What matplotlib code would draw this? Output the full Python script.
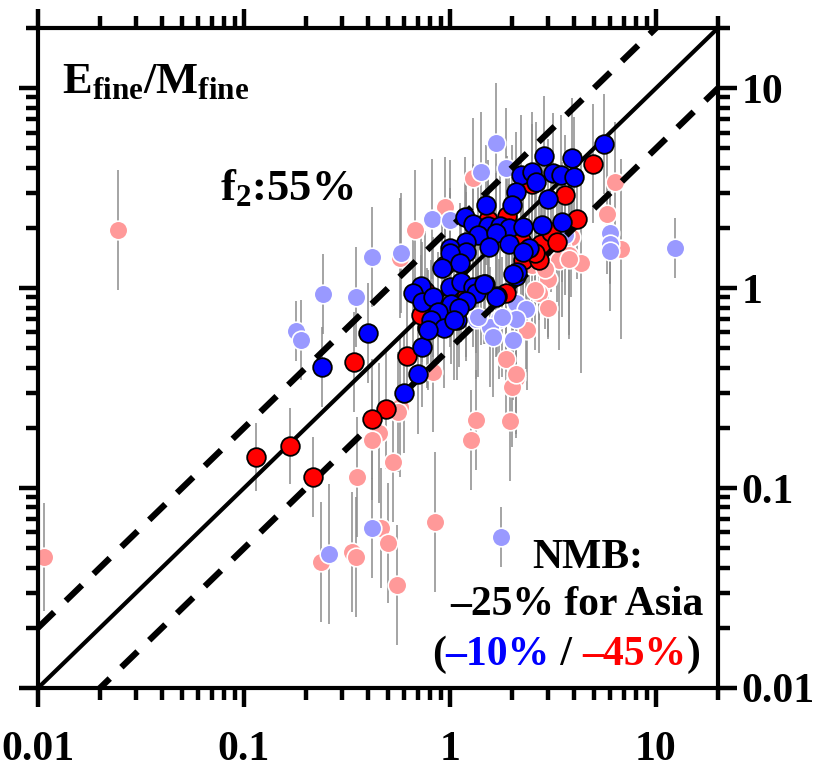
import numpy as np
import matplotlib
matplotlib.use("Agg")
import matplotlib.pyplot as plt
from matplotlib.ticker import FixedLocator, FixedFormatter, LogLocator, NullFormatter

plt.rcParams['font.family'] = ['Liberation Serif', 'DejaVu Serif']
plt.rcParams['font.weight'] = 'bold'
plt.rcParams['mathtext.fontset'] = 'custom'
plt.rcParams['mathtext.rm'] = 'Liberation Serif:bold'
plt.rcParams['mathtext.it'] = 'Liberation Serif:bold'
plt.rcParams['mathtext.bf'] = 'Liberation Serif:bold'

# ---- data: observed (x) vs modelled (y), error bar half-width in decades ----
# faded red (other sites)
lr_x = [0.0107, 0.0244, 0.95, 0.68, 1.29, 0.57, 0.83, 0.575, 0.56, 0.45, 0.42,
        0.53, 0.353, 1.33, 1.27, 0.843, 0.46, 0.5, 0.552, 0.334, 0.35, 0.237,
        2.08, 2.0, 1.96, 6.33, 5.79, 6.77, 3.87, 3.5, 3.8, 3.4, 4.33, 3.0, 2.7,
        3.0, 2.37, 1.87, 2.08, 3.8, 2.5, 2.9, 2.6]
lr_y = [0.045, 1.95, 2.54, 1.95, 3.55, 1.41, 0.38, 0.254, 0.24, 0.188, 0.174,
        0.135, 0.1135, 0.219, 0.174, 0.0676, 0.063, 0.053, 0.0327, 0.048, 0.045, 0.0427,
        0.355, 0.32, 0.216, 3.39, 2.34, 1.57, 1.8, 1.6, 1.47, 1.38, 1.33, 1.11, 0.94,
        0.80, 0.62, 0.44, 0.37, 1.4, 1.3, 1.25, 0.98]
lr_err = [0.27, 0.3, 0.25, 0.3, 0.3, 0.3, 0.3, 0.35, 0.3, 0.35, 0.3,
          0.3, 0.3, 0.25, 0.25, 0.35, 0.3, 0.3, 0.3, 0.3, 0.3, 0.3,
          0.3, 0.3, 0.3, 0.3, 0.3, 0.45, 0.3, 0.35, 0.4, 0.45, 0.55, 0.3, 0.3,
          0.15, 0.3, 0.3, 0.3, 0.4, 0.3, 0.3, 0.3]

# faded blue
lb_x = [0.179, 0.19, 0.242, 0.35, 0.42, 0.58, 0.82, 1.0, 1.41, 1.67, 1.88,
        0.42, 0.259, 1.76, 3.6, 5.98, 5.98, 6.0, 12.3, 2.1, 2.35, 1.72, 2.08,
        1.34, 1.56, 1.62, 2.03, 1.37, 1.78]
lb_y = [0.61, 0.55, 0.93, 0.90, 1.43, 1.5, 2.21, 2.2, 3.8, 5.3, 3.98,
        0.063, 0.047, 0.057, 1.85, 1.88, 1.67, 1.53, 1.58, 0.84, 0.79, 0.70, 0.70,
        0.70, 0.64, 0.57, 0.55, 0.72, 0.72]
lb_err = [0.15, 0.2, 0.2, 0.25, 0.25, 0.3, 0.3, 0.3, 0.3, 0.3, 0.3,
          0.25, 0.35, 0.15, 0.3, 0.25, 0.2, 0.3, 0.15, 0.3, 0.3, 0.3, 0.3,
          0.3, 0.3, 0.3, 0.3, 0.3, 0.3]

# dark red
dr_x = [0.115, 0.167, 0.216, 0.342, 0.617, 0.49, 0.42, 0.77, 1.42, 1.86, 1.48,
        2.25, 2.71, 2.76, 4.14, 3.63, 4.95, 2.6, 0.76, 1.53, 2.2, 3.1, 0.95,
        1.9, 2.5, 0.72, 1.2, 3.3]
dr_y = [0.143, 0.162, 0.1135, 0.427, 0.457, 0.248, 0.221, 0.63, 1.04, 0.94, 1.05,
        1.38, 1.38, 1.66, 2.21, 2.92, 4.2, 1.5, 0.97, 2.2, 1.75, 1.9, 1.3,
        2.3, 3.3, 0.73, 0.9, 1.7]
dr_err = [0.17, 0.19, 0.2, 0.25, 0.3, 0.3, 0.3, 0.3, 0.3, 0.3, 0.3,
          0.3, 0.3, 0.3, 0.3, 0.3, 0.3, 0.3, 0.3, 0.3, 0.3, 0.3, 0.3,
          0.3, 0.3, 0.3, 0.3, 0.3]

# dark blue
db_x = [0.239, 0.40, 0.73, 0.70, 0.6, 5.6, 3.92, 2.87, 3.16, 3.47, 4.0,
        2.2, 2.5, 2.62, 2.08, 1.99, 1.5, 3.0, 1.18, 1.3, 1.53, 1.75,
        1.94, 2.27, 2.8, 3.5, 1.37, 1.68, 1.94, 1.19, 1.0, 1.19, 2.41,
        2.08, 2.12, 1.7, 1.08, 1.0, 1.12, 0.91, 0.72, 0.66, 0.73, 0.83,
        1.0, 1.13, 1.3, 1.33, 1.19, 1.01, 1.1, 0.87, 0.81, 0.93, 1.05,
        1.67, 2.03, 2.26, 1.46, 1.54, 0.78]
db_y = [0.403, 0.596, 0.507, 0.37, 0.30, 5.25, 4.5, 4.6, 3.76, 3.7, 3.6,
        3.67, 3.8, 3.39, 3.02, 2.6, 2.6, 2.79, 2.26, 2.1, 2.05, 2.05,
        2.0, 2.02, 2.07, 2.15, 1.84, 1.88, 1.67, 1.7, 1.58, 1.51, 1.58,
        1.15, 1.2, 0.91, 0.69, 1.5, 1.33, 1.26, 1.03, 0.95, 0.85, 0.9,
        1.01, 1.07, 1.01, 0.95, 0.86, 0.83, 0.8, 0.76, 0.69, 0.63, 0.69,
        0.9, 1.17, 1.52, 1.05, 1.6, 0.62]
db_err = [0.2, 0.25, 0.3, 0.3, 0.3, 0.25, 0.3, 0.3, 0.3, 0.3, 0.3,
          0.3, 0.3, 0.3, 0.3, 0.3, 0.3, 0.3, 0.3, 0.3, 0.3, 0.3,
          0.3, 0.3, 0.3, 0.3, 0.3, 0.3, 0.3, 0.3, 0.3, 0.3, 0.3,
          0.3, 0.3, 0.3, 0.3, 0.3, 0.3, 0.3, 0.3, 0.3, 0.3, 0.3,
          0.3, 0.3, 0.3, 0.3, 0.3, 0.3, 0.3, 0.3, 0.3, 0.3, 0.3,
          0.3, 0.3, 0.3, 0.3, 0.3, 0.3]

tick_vals = [0.01, 0.1, 1, 10]
tick_labels = ['0.01', '0.1', '1', '10']

# ---- figure ----
fig = plt.figure(figsize=(8.26, 7.73), dpi=100)
ax = fig.add_axes([38 / 826, 85 / 773, 680 / 826, 660 / 773])
ax.set_xscale('log')
ax.set_yscale('log')
ax.set_xlim(0.01, 20)
ax.set_ylim(0.01, 20)


def err_bars(xs, ys, es):
    xs, ys, es = np.array(xs), np.array(ys), np.array(es)
    ax.vlines(xs, ys / 10 ** es, ys * 10 ** es, color='#8c8c8c', lw=1.1, zorder=1)


for xs, ys, es in [(lr_x, lr_y, lr_err), (lb_x, lb_y, lb_err),
                   (dr_x, dr_y, dr_err), (db_x, db_y, db_err)]:
    err_bars(xs, ys, es)

ms = 180
ax.scatter(lr_x, lr_y, s=ms, c='#FF9999', edgecolors='white', linewidths=1.2, zorder=2)
ax.scatter(lb_x, lb_y, s=ms, c='#9999FF', edgecolors='white', linewidths=1.2, zorder=2.1)

# 1:1 and factor-of-2 lines
xx = np.array([0.01, 20])
ax.plot(xx, xx, color='k', lw=3, zorder=3)
ax.plot(xx, 2 * xx, color='k', lw=4.5, dashes=(3.6, 2.6), zorder=3)
ax.plot(xx, xx / 2, color='k', lw=4.5, dashes=(3.6, 2.6), zorder=3)

ax.scatter(dr_x, dr_y, s=ms, c='#FF0000', edgecolors='black', linewidths=1.3, zorder=4)
ax.scatter(db_x, db_y, s=ms, c='#0000FF', edgecolors='black', linewidths=1.3, zorder=4.1)

# ---- axes styling ----
for sp in ax.spines.values():
    sp.set_linewidth(3)
for axis in (ax.xaxis, ax.yaxis):
    axis.set_major_locator(FixedLocator(tick_vals))
    axis.set_major_formatter(FixedFormatter(tick_labels))
    axis.set_minor_locator(LogLocator(base=10, subs=np.arange(2, 10)))
    axis.set_minor_formatter(NullFormatter())
ax.tick_params(which='both', direction='out', top=True, right=True,
               labelleft=False, labelright=True, labelbottom=True, labeltop=False,
               width=3.2, labelsize=30)
ax.tick_params(which='major', length=14)
ax.tick_params(which='minor', length=8.5)
ax.tick_params(axis='x', which='major', pad=17)
ax.tick_params(axis='y', which='major', pad=3)

# ---- annotations ----
tk = dict(transform=ax.transAxes, fontsize=32, fontweight='bold', zorder=6)
ax.text(0.035, 0.901, r'$\mathrm{E_{fine}/M_{fine}}$', ha='left', va='baseline', **tk)
ax.text(0.268, 0.739, r'$\mathrm{f_{2}}$:55%', ha='left', va='baseline', **tk)
ax.text(0.808, 0.182, 'NMB:', ha='center', va='baseline', fontsize=30, transform=ax.transAxes)
ax.text(0.793, 0.111, '–25% for Asia', ha='center', va='baseline', fontsize=30,
        transform=ax.transAxes)

t = ax.text(0.579, 0.035, '(', ha='left', va='baseline', fontsize=30, transform=ax.transAxes)
for s, col in [('–10%', '#0000FF'), (' / ', 'black'), ('–45%', '#FF0000'), (')', 'black')]:
    t = ax.annotate(s, xy=(1, 0), xycoords=t, ha='left', va='bottom',
                    fontsize=30, color=col)

fig.savefig('out.png', dpi=100)
